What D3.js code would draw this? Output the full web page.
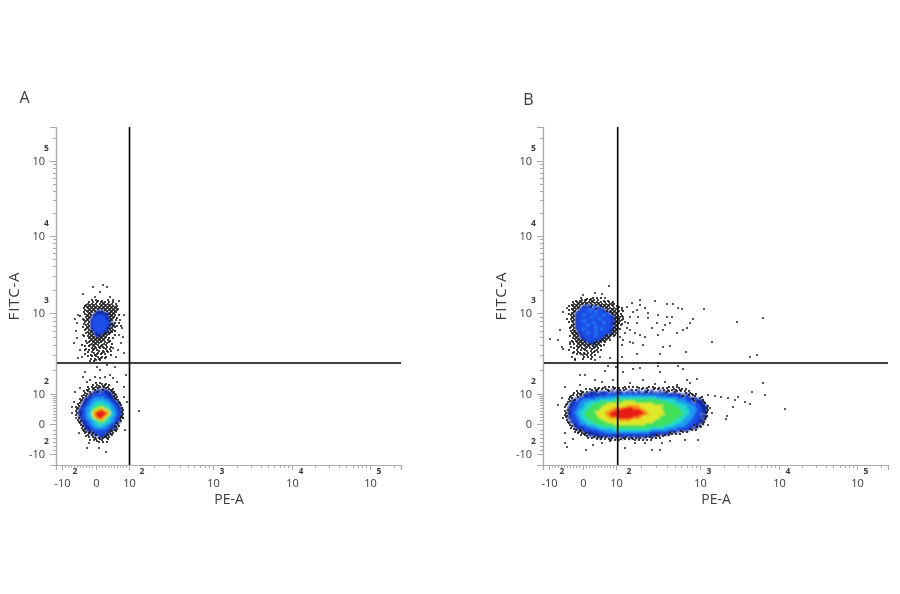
<!DOCTYPE html>
<html>
<head>
<meta charset="utf-8">
<script src="https://cdn.jsdelivr.net/npm/d3@7"></script>
<style>
  html, body { margin: 0; padding: 0; background: #fff; }
  text { font-family: "Open Sans", "Noto Sans", sans-serif; fill: #3a3a3a; }
</style>
</head>
<body>
<svg id="chart" width="900" height="594"></svg>
<script>
// all values are display channels
var xMajor = [6, 40, 73, 157, 236, 314];
var xLabels = ["-10", "0", "10", "10", "10", "10"];
var xExps = ["2", "", "2", "3", "4", "5"];
var xMinor = [9, 12, 15, 18, 21, 24, 27, 30, 33, 36, 43, 46, 49, 52, 55, 58, 61, 64, 67, 70,
    98, 113, 124, 132, 138, 144, 149, 153, 181, 195, 205, 212, 218, 224, 228, 232,
    259, 273, 283, 290, 297, 302, 306, 310, 338];

var yMajor = [11, 41, 71, 152, 229, 304];
var yLabels = ["-10", "0", "10", "10", "10", "10"];
var yExps = ["2", "", "2", "3", "4", "5"];
var yMinor = [15, 19, 23, 27, 31, 35, 45, 48, 51, 54, 57, 60, 63, 65, 67, 69,
    95, 110, 120, 128, 134, 139, 144, 148, 175, 189, 199, 206, 212, 217, 222, 226,
    252, 265, 274, 281, 287, 292, 297, 301, 327];

var gateXA = 73.5;
var gateXB = 74.7;
var gateY = 102;

// density levels: k = lone black events, 1-8 = blue to red, cell = 2 channels
var levelColors = {"1":"#08209c", "2":"#1a4ee8", "3":"#1c9cf0", "4":"#22d8c8", "5":"#3fe05a", "6":"#dfe825", "7":"#f88a14", "8":"#e81a14"};

var aLowerStart = [20, 82];
var aLower = [
"..........k.kk.k........",
"........k.kk.kk.k.......",
"......k.kkkkk1kkk.......",
".....kk.kk111k11kkk.....",
"....k.kk111k221111kk....",
"....kk1k1222222111kk....",
"...kkk1122222222111kk...",
"...k111223333322211kk...",
"..kk1122333333332211kk..",
"..k112233344443332211k..",
".kk1122334444444332211k.",
".k11223344555544433221k.",
"kk122334455666544332211k",
"k1122334566787665433221k",
"k1122334678888876433221k",
"k1122344678888876443221k",
"k1122334678888765433221k",
".k12233456788765433221kk",
".k11223344567654433221k.",
".kk1122334455544433211k.",
"..k11223344444433221kk..",
"..kk112233344333221k1k..",
"...k1112233333322111k...",
"...kk111222222221k1kk...",
"....kk1k122222211kk.k...",
"....k.k1k112221k1kk.....",
".....kk.k1k1111kk.k.....",
"......k.kk.k1kkkk.......",
".......k.kk.kk..k.......",
"..........kk.k.k........"
];

var aUpperStart = [24, 165];
var aUpper = [
"......k.kk.k..k......",
"....k.k.k.kkk.k.k....",
"...kkkkkk.kkkkkkk.k..",
"..kkkkkkkkkkkkkkkkk..",
"..k.kkkkkkkkkkkkkkkk.",
"..kkkkkk1111kkkkkkk..",
"..k.kkk11111111kkkk..",
"..kkkk11222211kkkk.k.",
"k..kkk122222211kkk...",
".k.kk1222222211kk.k..",
"..kkk1222222221kk.k..",
"..k.k122222222211k.k.",
"..kkk1222222221kkk...",
".k.kk122222222 1kkk.k".replace(" ", "1"),
"...kk112222221kkk....",
"..k.kk1222221 1kkk...".replace(" ", "1"),
"...kkkk112211kkkk....",
"....kkk1111kkkk..k...",
"..k.kkkk11kkkk.......",
"....kkkkkkkkk.k.k....",
"...k.kkkkkkkk.kk.....",
"...kk.kkkkk.kkk......",
".k...kkkkk.kkk..k....",
"..k.k.kk.kkk.k.k.....",
"...k..kkk.k.kk.k.....",
"..k.k.k.kk.k.k.k.....",
"....k.kk.k.kk.k......",
"..k..k.kk.k.k..k.....",
"....k.k.kk.k.k.......",
".....k.k.kk.k........",
".....k.kk.k.........."
];

var aPoints = [[37,178],[47,180],[51,178],[27,171],[44,173],[54,168],[39,168],[63,164],[57,165],
    [22,150],[21,142],[64,145],[66,137],[63,130],[21,127],[27,130],[57,117],[24,115],[62,115],
    [68,150],[19,146],[67,128],[20,134],[65,122],[18,122],[60,108],[26,108],[68,112],[22,107],
    [41,98],[51,100],[59,98],[44,95],[29,93],[54,90],[27,88],[39,88],[57,87],[70,90],[44,87],[34,85],[61,83],[49,88],[31,83],
    [19,73],[16,58],[16,52],[20,47],[18,63],[23,32],[31,17],[33,22],[43,17],[50,13],[68,78],[68,68],[71,63],[69,35],[67,47],[24,77],
    [83,54]];

var bLowerStart = [22, 78];
var bLower = [
"...............k.k.kk.k.kk.k.kk.k.k.kk.k.kk.kk.k.k.kk.k.kk...............",
"..........k.kk.kk.k.kk.1k.1k.kk.1k.k1.k.1k.1k.k1.k.k.kkk.kk.k............",
"......k.kk.k1111k11121k1.1211.21.12.11.11k21.1.1.11kk.1kk.k.k.k..........",
"....k.kkk1111121122122221221222222122221221212221122112111.1k1kk.k.......",
"...kk.k1k11221221222232323333333333333333333332323221222211k11k.kk......",
"..kk.1k12222222333333333344444444444444444444433333333332222221111.kk....",
"..k11k2223333333344444445555555555555555555555554444444333332222k1111k...",
".kk1122233334444455555555555566666655555555555555554444433333222k11 1k..".replace(" ", "1"),
".k11222333444455555556666666666666666666666655555555554444433332222111k.",
"k.112223334445555556666666666667777776666666666665555555444443333222111k",
"k1122233344455555566666677777888887777666666666655555555544443333222111k",
".k122233444555555666667778888888888888776666666665555555554444333322211k",
"k1122334445555566666777888888888888888877666666665555555555444333222111k",
"k1122334445555556666778888888888888888887766666666555555555444333222.1k.",
"kk122233445555556666677888888888888887766666666655555555554443332222111k",
"k1122233444555555666667777888888887777666666666555555555544433332221.1k.",
".k.12223344455555556666666677777766666666666655555555554444333322221 1k..".replace(" ", "1"),
".k1122233344445555555666666666666666666666665555555555444433332222111k..",
"..k.112233344445555555556666666666666666555555555555444433333222211.1k..",
"..kk112222233334444555555555555555555555555555555444443333332222k11k....",
"...k.11112222333344444444555555555555555554444444433333322222211 1k.k...".replace(" ", "1"),
"....kk1k112222222333333344444444444444444443333333332222221111kk.k......",
".....k.kk1111122222233333333333333333333332222222221111k1.kk.k.........",
"......k.kkk11111122222222222222222222222222111111111kk.k.k..............",
"........k.kk1.11111111211111112111111112111111kk.kk.k.................",
"...........k.kk.k1k.k.1k.1k.1kk.1k.k1k.1k.kk.k.k.......................",
"................k.k.k.kk.k.kk.k.k.kk.k.k.k.k............................"
];

var bUpperStart = [22, 167];
var bUpper = [
"........k..k.kk.k.k...........",
".....k.kk.k.kkk.k..k.k........",
"....k.kkkkkkkkkkkkk.k.k.k.....",
"...kkkkkk1k11k1kkkkkkkkkk.....",
"..k.kkkk11122k2211kkkkk.k.kk..",
"...kkkk12222222k2211kkkkkkk.k.",
"..k.kk122222322222221k1kkk.k.k",
"...kk12222222223222221kkkkk...",
"..kkk1222322222222232221kkk.k.",
"...kk12222222322222222211kkkk.",
".k.kk12222222222232222221kkk.k",
"...kk12223222222222222221kkkk.",
"..k.k12222222232222322211kkk..",
"...kk1222223222222222221kkk.k.",
"...kk12222222223222222221kk...",
"..k.k1222322222222322221kkkk..",
"...kkk122222222322222211kkk...",
"...kkk11222322222222221kkk....",
"....kkk12222222322221k1kkk....",
"..k.kkk1122222222221kkk.k.....",
"....kkkk11222222211kkkk.......",
"...k.kkkk11222211kkkk.k.......",
"....k.kkkkk1111kkkk.k.........",
"..k.k.kkkkkkk1kkkk.k..........",
"...k..kkk.kkk.kkk.k...........",
"....k.k.kkk.kkk.k.............",
"..k...k.k.kk.k.kk.k...........",
"....k.kk.k.k.kk.k.............",
"......k.k.kk.k.k..............",
"...k.....k.k.k................",
".....k...k...k................"
];

var bPoints = [[66,179],[40,170],[52,172],[59,171],[42,165],[62,167],[69,162],[97,165],[112,164],[124,161],[130,161],
    [135,157],[139,156],[161,156],[220,147],[194,143],[150,146],[147,142],[97,160],[102,157],[105,152],[115,150],
    [124,148],[129,148],[114,142],[122,140],[127,142],[140,135],[144,137],[134,132],[97,130],[102,128],[115,130],
    [87,148],[94,142],[84,158],[90,153],[85,142],[82,132],[90,122],[100,120],[80,125],[87,135],[109,137],[120,135],
    [105,147],[94,155],[169,123],[143,113],[127,119],[120,118],[94,111],[79,108],[207,108],[214,110],[115,102],[117,111],
    [135,99],[140,96],[115,99],[73,98],[97,97],[90,96],[80,93],[117,93],[65,99],[62,94],[42,90],[37,90],[52,85],[59,83],
    [7,126],[15,125],[19,118],[20,116],[27,123],[17,135],[20,153],[24,157],[30,112],[32,105],[40,110],[52,105],[57,108],[67,107],
    [79,155],[80,148],[78,140],[84,137],[79,120],[89,162],[87,123],[95,148],[82,143],[92,132],[77,128],
    [165,70],[172,69],[178,68],[185,67],[195,68],[192,65],[202,63],[207,61],[209,73],[220,82],[222,70],[190,58],[242,56],
    [184,49],[183,46],[165,40],[167,57],[169,52],[154,86],[144,85],[147,82],[134,80],[122,83],[112,81],[100,85],[87,82],[70,85],
    [37,80],[22,78],[19,67],[15,60],[20,47],[22,32],[22,22],[24,18],[30,26],[43,15],[50,20],[59,22],[67,24],[82,17],[92,22],
    [102,22],[109,15],[117,15],[119,22],[127,24],[142,25],[155,25]];

var svg = d3.select("#chart");

// soft edges, the original is a scaled screenshot
var defs = svg.append("defs");
function addBlur(id, amount) {
    defs.append("filter").attr("id", id)
        .attr("filterUnits", "userSpaceOnUse").attr("x", -100).attr("y", -200).attr("width", 1100).attr("height", 900)
        .append("feGaussianBlur").attr("stdDeviation", amount);
}
addBlur("softCore", 0.9);
addBlur("softDots", 0.45);
addBlur("softText", 0.3);

var width = 345, height = 338;
var x = d3.scaleLinear().domain([0, width]).range([0, width]);
var y = d3.scaleLinear().domain([0, height]).range([height, 0]);

function drawCore(dotsG, colorG, start, rows) {
    var cells = [];
    rows.forEach(function(row, r) {
        for (var c = 0; c < row.length; c++) {
            if (row[c] != ".") cells.push({cx: start[0] + c * 2, cy: start[1] - r * 2, level: row[c], r: r, c: c});
        }
    });
    // staggered so the lone events do not sit on a lattice
    dotsG.selectAll(null).data(cells.filter(function(d) { return d.level == "k"; })).enter().append("circle")
        .attr("cx", function(d) { return x(d.cx + (d.r % 2)); })
        .attr("cy", function(d) { return y(d.cy - (d.c % 2)); })
        .attr("r", 1.05)
        .attr("fill", "#0c0c0c");
    colorG.selectAll(null).data(cells.filter(function(d) { return d.level != "k"; })).enter().append("rect")
        .attr("x", function(d) { return x(d.cx); })
        .attr("y", function(d) { return y(d.cy); })
        .attr("width", x(2) - x(0) + 0.3)
        .attr("height", y(0) - y(2) + 0.3)
        .attr("fill", function(d) { return levelColors[d.level]; });
}

function drawPanel(offsetX, letter, letterX, letterY, gateX, cores, points) {
    var g = svg.append("g").attr("transform", "translate(" + offsetX + ",127)");

    var colorG = g.append("g").attr("filter", "url(#softCore)");
    var dotsG = g.append("g").attr("filter", "url(#softDots)");
    dotsG.selectAll(".pt").data(points).enter().append("circle")
        .attr("class", "pt")
        .attr("cx", function(d) { return x(d[0]); })
        .attr("cy", function(d) { return y(d[1]); })
        .attr("r", 1)
        .attr("fill", "#222");
    cores.forEach(function(core) { drawCore(dotsG, colorG, core[0], core[1]); });

    var axisG = g.append("g").attr("filter", "url(#softText)");

    axisG.append("g").attr("transform", "translate(0," + height + ")")
        .call(d3.axisBottom(x).tickValues(xMinor).tickSize(3).tickFormat(""));
    axisG.append("g").attr("transform", "translate(0," + height + ")")
        .call(d3.axisBottom(x).tickValues(xMajor).tickSize(5).tickPadding(9)
            .tickFormat(function(d, i) { return xLabels[i]; }));
    axisG.append("g")
        .call(d3.axisLeft(y).tickValues(yMinor).tickSize(3).tickFormat(""));
    axisG.append("g")
        .call(d3.axisLeft(y).tickValues(yMajor).tickSize(6).tickPadding(5)
            .tickFormat(function(d, i) { return yLabels[i]; }));

    axisG.selectAll(".domain").attr("stroke", "#aaa").attr("stroke-width", 1.2);
    axisG.selectAll(".tick line").attr("stroke", "#aaa");
    axisG.selectAll(".tick text").style("font-family", '"Open Sans", sans-serif').style("font-size", "11px").style("fill", "#3a3a3a");

    // exponents sit up and to the right of the "10"
    xMajor.forEach(function(v, i) {
        if (!xExps[i]) return;
        axisG.append("text").attr("x", x(v) + (i < 3 ? 13 : 9)).attr("y", height + 9)
            .attr("text-anchor", "middle").attr("font-size", 8.5).attr("font-weight", "bold").text(xExps[i]);
    });
    yMajor.forEach(function(v, i) {
        if (!yExps[i]) return;
        axisG.append("text").attr("x", -9.5).attr("y", y(v) - 10.5)
            .attr("text-anchor", "middle").attr("font-size", 8.5).attr("font-weight", "bold").text(yExps[i]);
    });

    // quadrant gate
    g.append("line").attr("x1", x(gateX)).attr("x2", x(gateX)).attr("y1", 0).attr("y2", height)
        .attr("stroke", "#000").attr("stroke-width", 1.6);
    g.append("line").attr("x1", 1).attr("x2", width).attr("y1", y(gateY)).attr("y2", y(gateY))
        .attr("stroke", "#000").attr("stroke-width", 1.6);

    axisG.append("text").attr("x", 173).attr("y", 377).attr("text-anchor", "middle")
        .attr("font-size", 14).text("PE-A");
    axisG.append("text").attr("transform", "translate(-37,169) rotate(-90)").attr("text-anchor", "middle")
        .attr("font-size", 15).attr("letter-spacing", 0.8).text("FITC-A");

    svg.append("text").attr("x", letterX).attr("y", letterY).attr("font-size", 16)
        .attr("text-anchor", "middle").attr("filter", "url(#softText)").text(letter);
}

drawPanel(56, "A", 24.5, 103, gateXA, [[aUpperStart, aUpper], [aLowerStart, aLower]], aPoints);
drawPanel(543, "B", 528.5, 105, gateXB, [[bUpperStart, bUpper], [bLowerStart, bLower]], bPoints);
</script>
</body>
</html>
